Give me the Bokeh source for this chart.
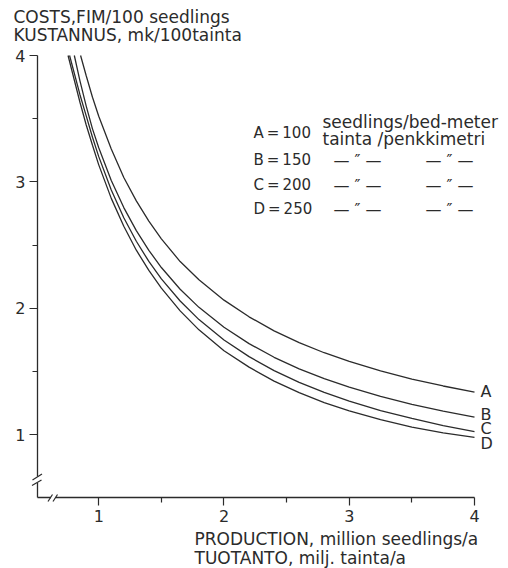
from bokeh.plotting import figure
from bokeh.models import Range1d, FixedTicker, Label, Arrow
from bokeh.embed import file_html
from bokeh.resources import INLINE

# ---- data ----
x_A = [0.855, 0.90, 0.95, 1.0, 1.1, 1.2, 1.3, 1.4, 1.5, 1.65, 1.8, 2.0, 2.2, 2.4, 2.6, 2.8, 3.0, 3.25, 3.5, 3.75, 4.0]
y_A = [4.00, 3.84, 3.67, 3.52, 3.26, 3.035, 2.85, 2.69, 2.55, 2.37, 2.227, 2.065, 1.933, 1.822, 1.729, 1.649, 1.58, 1.505, 1.441, 1.386, 1.338]

x_B = [0.805, 0.85, 0.90, 0.95, 1.0, 1.1, 1.2, 1.3, 1.4, 1.5, 1.65, 1.8, 2.0, 2.2, 2.4, 2.6, 2.8, 3.0, 3.25, 3.5, 3.75, 4.0]
y_B = [4.00, 3.80, 3.60, 3.42, 3.27, 3.012, 2.797, 2.615, 2.459, 2.323, 2.151, 2.008, 1.85, 1.721, 1.613, 1.522, 1.444, 1.377, 1.304, 1.241, 1.187, 1.14]

x_C = [0.767, 0.85, 0.90, 0.95, 1.0, 1.1, 1.2, 1.3, 1.4, 1.5, 1.65, 1.8, 2.0, 2.2, 2.4, 2.6, 2.8, 3.0, 3.25, 3.5, 3.75, 4.0]
y_C = [4.00, 3.69, 3.522, 3.353, 3.20, 2.936, 2.717, 2.531, 2.371, 2.233, 2.058, 1.911, 1.75, 1.618, 1.508, 1.415, 1.336, 1.267, 1.192, 1.129, 1.073, 1.025]

x_D = [0.755, 0.85, 0.90, 0.95, 1.0, 1.1, 1.2, 1.3, 1.4, 1.5, 1.65, 1.8, 2.0, 2.2, 2.4, 2.6, 2.8, 3.0, 3.25, 3.5, 3.75, 4.0]
y_D = [4.00, 3.63, 3.45, 3.29, 3.135, 2.87, 2.65, 2.46, 2.30, 2.16, 1.98, 1.83, 1.665, 1.535, 1.425, 1.333, 1.255, 1.19, 1.12, 1.06, 1.015, 0.98]

curve_names = ["A", "B", "C", "D"]
legend_rows = ["A\u2009=\u2009100", "B\u2009=\u2009150", "C\u2009=\u2009200", "D\u2009=\u2009250"]
legend_head = ["seedlings/bed-meter", "tainta /penkkimetri"]
y_title = ["COSTS,FIM/100 seedlings", "KUSTANNUS, mk/100tainta"]
x_title = ["PRODUCTION, million seedlings/a", "TUOTANTO, milj. tainta/a"]
x_ticks = [1, 2, 3, 4]
y_ticks = [1, 2, 3, 4]
x_minor = [1.5, 2.5, 3.5]
y_minor = [1.5, 2.5, 3.5]

# ---- layout ----
W, H = 508, 568
X0, X1 = 0.511, 4.0          # axis extents
Y0, Y1 = 0.504, 4.0
FL, FR, FT, FB = 37, 474, 55, 497  # where the axes sit, canvas pixels
SX = (FR - FL) / (X1 - X0)
SY = (FB - FT) / (Y1 - Y0)

INK = "#2b2b2b"
FONT = "DejaVu Sans"

try:
    Label(x_units="canvas")
    UNITS = "canvas"
except Exception:
    UNITS = "screen"

p = figure(width=W, height=H,
           min_border_left=0, min_border_right=0,
           min_border_top=0, min_border_bottom=0,
           x_range=Range1d(X0 - FL / SX, X1 + (W - FR) / SX),
           y_range=Range1d(Y0 - (H - FB) / SY, Y1 + FT / SY),
           output_backend="svg", toolbar_location=None)
p.outline_line_color = None
p.grid.visible = False
p.background_fill_color = "white"
p.border_fill_color = "white"

p.xaxis.ticker = FixedTicker(ticks=x_ticks, minor_ticks=x_minor)
p.yaxis.ticker = FixedTicker(ticks=y_ticks, minor_ticks=y_minor)
p.xaxis.fixed_location = Y0
p.yaxis.fixed_location = X0
p.xaxis.bounds = (X0, X1)
p.yaxis.bounds = (Y0, Y1)
for ax in (p.xaxis, p.yaxis):
    ax.axis_line_color = INK
    ax.axis_line_width = 1.3
    ax.major_tick_line_color = INK
    ax.minor_tick_line_color = INK
    ax.major_tick_line_width = 1.2
    ax.minor_tick_line_width = 1.2
    ax.major_tick_in = 0
    ax.major_tick_out = 8
    ax.minor_tick_in = 0
    ax.minor_tick_out = 5
    ax.major_label_text_font = FONT
    ax.major_label_text_font_size = "16px"
    ax.major_label_text_color = INK
    ax.major_label_standoff = 4

for xs, ys in ((x_A, y_A), (x_B, y_B), (x_C, y_C), (x_D, y_D)):
    p.line(xs, ys, line_color=INK, line_width=1.3)


def lab(px, py, txt, size="16px", align="left"):
    p.add_layout(Label(x=px, y=py, x_units=UNITS, y_units=UNITS, text=txt,
                       text_align=align, text_baseline="middle", text_font=FONT,
                       text_font_size=size, text_color=INK))


# curve end letters
for name, py in zip(curve_names, [391, 414, 428, 443]):
    lab(480, py, name)

# axis titles
for txt, py in zip(y_title, [16, 34]):
    lab(13, py, txt, size="17px")
for txt, py in zip(x_title, [538, 557]):
    lab(194, py, txt, size="17px")

# legend block
for txt, py in zip(legend_rows, [132, 159.5, 184.5, 208]):
    lab(253, py, txt, size="15px")
for txt, py in zip(legend_head, [121, 138]):
    lab(322, py, txt, size="17px")
for py in [160, 184.5, 208.5]:
    for cx in [357, 449]:
        lab(cx, py, "\u2014 \u2033 \u2014", align="center")


# axis breaks
def seg(x1, y1, x2, y2, color=INK, w=1.2):
    p.add_layout(Arrow(end=None, x_start=x1, y_start=y1, x_end=x2, y_end=y2,
                       start_units=UNITS, end_units=UNITS,
                       line_color=color, line_width=w))


seg(FL, 476, FL, 482.5, color="white", w=5)
seg(32, 479.5, 41.5, 473.5)
seg(31.5, 485, 41, 479.5)
seg(50.5, FB, 55, FB, color="white", w=5)
seg(47.5, 501, 52, 494)
seg(52.5, 501, 57, 494)

open("out.html", "w").write(file_html(p, INLINE))
